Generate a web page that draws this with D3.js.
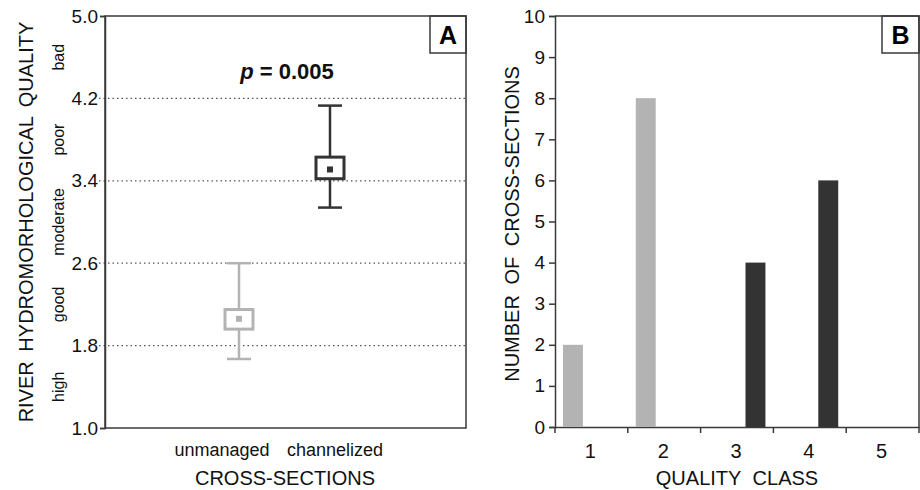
<!DOCTYPE html>
<html>
<head>
<meta charset="utf-8">
<script src="https://cdn.jsdelivr.net/npm/d3@7"></script>
<style>
  body { margin: 0; background: #fff; }
  svg { display: block; font-family: "Liberation Sans", Arial, sans-serif; }
  .frame { fill: none; stroke: #3a3a3a; stroke-width: 1.5; }
  .grid line { stroke: #555; stroke-width: 1.2; stroke-dasharray: 1.5 3; }
  .axis path, .axis line { stroke: #3a3a3a; stroke-width: 1.5; }
  .axis text { font-family: "Liberation Sans", Arial, sans-serif; font-size: 19px; fill: #111; }
</style>
</head>
<body>
<svg id="chart" width="920" height="490"></svg>
<script>
// ---- data (panel A: whisker/box summary) ----
const groups   = ['unmanaged', 'channelized'];
const whiskLo  = [1.67, 3.14];
const boxLo    = [1.96, 3.42];
const meanVals = [2.06, 3.51];
const boxHi    = [2.15, 3.63];
const whiskHi  = [2.60, 4.13];
const groupColors = ['#b3b3b3', '#333333'];

const yTicksA   = [1.0, 1.8, 2.6, 3.4, 4.2, 5.0];
const gridA     = [1.8, 2.6, 3.4, 4.2];
const classNames = ['high', 'good', 'moderate', 'poor', 'bad'];
const classMid   = [1.4, 2.2, 3.0, 3.8, 4.6];

// ---- data (panel B: counts per quality class) ----
const qualityClass = ['1', '2', '3', '4', '5'];
const countUnmanaged   = [2, 8, 0, 0, 0];
const countChannelized = [0, 0, 4, 6, 0];
const yTicksB = d3.range(0, 11);

const svg = d3.select('#chart');

// ================= Panel A =================
const A = { l: 105, r: 466, t: 16, b: 428 };
const yA = d3.scaleLinear().domain([1, 5]).range([A.b, A.t]);
const xA = d3.scalePoint().domain(groups).range([A.l + 134, A.l + 225]);

const gA = svg.append('g');

gA.append('g').attr('class', 'grid')
  .selectAll('line').data(gridA).join('line')
    .attr('x1', A.l - 6).attr('x2', A.r)
    .attr('y1', d => yA(d)).attr('y2', d => yA(d));

gA.append('g').attr('class', 'axis')
  .attr('transform', `translate(${A.l},0)`)
  .call(d3.axisLeft(yA).tickValues(yTicksA).tickFormat(d3.format('.1f')).tickSize(5).tickPadding(2))
  .call(g => g.selectAll('.tick line').filter(d => gridA.includes(d)).remove());

gA.append('rect').attr('class', 'frame')
  .attr('x', A.l).attr('y', A.t).attr('width', A.r - A.l).attr('height', A.b - A.t);

// whiskers + boxes
const stats = groups.map((g, i) => ({
  g, lo: whiskLo[i], q1: boxLo[i], m: meanVals[i], q3: boxHi[i], hi: whiskHi[i], c: groupColors[i]
}));
const bw = gA.selectAll('.bw').data(stats).join('g').attr('class', 'bw');
bw.append('line')
  .attr('x1', d => xA(d.g)).attr('x2', d => xA(d.g))
  .attr('y1', d => yA(d.hi)).attr('y2', d => yA(d.lo))
  .attr('stroke', d => d.c).attr('stroke-width', 2.5);
bw.append('line')
  .attr('x1', d => xA(d.g) - 12).attr('x2', d => xA(d.g) + 12)
  .attr('y1', d => yA(d.hi)).attr('y2', d => yA(d.hi))
  .attr('stroke', d => d.c).attr('stroke-width', 2.5);
bw.append('line')
  .attr('x1', d => xA(d.g) - 12).attr('x2', d => xA(d.g) + 12)
  .attr('y1', d => yA(d.lo)).attr('y2', d => yA(d.lo))
  .attr('stroke', d => d.c).attr('stroke-width', 2.5);
bw.append('rect')
  .attr('x', d => xA(d.g) - 14).attr('width', 28)
  .attr('y', d => yA(d.q3)).attr('height', d => yA(d.q1) - yA(d.q3))
  .attr('fill', '#fff').attr('stroke', d => d.c).attr('stroke-width', 3);
bw.append('rect')
  .attr('x', d => xA(d.g) - 3).attr('width', 6)
  .attr('y', d => yA(d.m) - 3).attr('height', 6)
  .attr('fill', d => d.c);

// p-value
const pText = gA.append('text')
  .attr('x', 287).attr('y', 79).attr('text-anchor', 'middle')
  .attr('font-size', 22).attr('font-weight', 'bold').attr('fill', '#111');
pText.append('tspan').attr('font-style', 'italic').text('p');
pText.append('tspan').text(' = 0.005');

// class labels (rotated)
gA.selectAll('.cls').data(classNames).join('text')
  .attr('class', 'cls')
  .attr('transform', (d, i) => `translate(64,${yA(classMid[i])}) rotate(-90)`)
  .attr('text-anchor', 'middle').attr('font-size', 16).attr('fill', '#111')
  .text(d => d);

gA.append('text')
  .attr('transform', `translate(33,${(A.t + A.b) / 2}) rotate(-90)`)
  .attr('text-anchor', 'middle').attr('font-size', 20).attr('fill', '#111')
  .attr('word-spacing', 4)
  .text('RIVER HYDROMORHOLOGICAL QUALITY');

// category labels
const labelDx = { unmanaged: -17, channelized: 5 };
gA.selectAll('.cat').data(groups).join('text')
  .attr('class', 'cat')
  .attr('x', d => xA(d) + labelDx[d]).attr('y', 456)
  .attr('text-anchor', 'middle').attr('font-size', 18).attr('fill', '#111')
  .text(d => d);

gA.append('text')
  .attr('x', 285).attr('y', 485).attr('text-anchor', 'middle')
  .attr('font-size', 20).attr('fill', '#111')
  .text('CROSS-SECTIONS');

// panel tag A
gA.append('rect').attr('class', 'frame')
  .attr('x', A.r - 36).attr('y', A.t).attr('width', 36).attr('height', 37);
gA.append('text').attr('x', A.r - 18).attr('y', A.t + 28)
  .attr('text-anchor', 'middle').attr('font-size', 25).attr('font-weight', 'bold')
  .text('A');

// ================= Panel B =================
const B = { l: 555, r: 919, t: 16, b: 427 };
const yB = d3.scaleLinear().domain([0, 10]).range([B.b, B.t]);
const xB = d3.scaleBand().domain(qualityClass).range([B.l, B.r]);
const xSub = d3.scaleBand().domain(groups).range([0, xB.bandwidth()])
  .paddingInner(0.46).paddingOuter(0.216);

const gB = svg.append('g');

gB.append('g').attr('class', 'axis')
  .attr('transform', `translate(${B.l},0)`)
  .call(d3.axisLeft(yB).tickValues(yTicksB).tickSize(6).tickPadding(4));

gB.append('g').attr('class', 'axis')
  .attr('transform', `translate(0,${B.b})`)
  .call(d3.axisBottom(xB).tickSize(0).tickPadding(17))
  .call(g => g.selectAll('.tick text').style('font-size', '20px').attr('dx', -1))
  .call(g => g.selectAll('.edge').data(qualityClass.map(c => xB(c)).concat([B.r]))
    .join('line').attr('class', 'edge')
    .attr('x1', d => d).attr('x2', d => d).attr('y1', 0).attr('y2', 6));

gB.append('path').attr('class', 'frame')
  .attr('d', `M${B.l},${B.t}H${B.r}V${B.b}`);

const barRows = qualityClass.flatMap((c, i) => [
  { c, g: 'unmanaged', v: countUnmanaged[i], col: groupColors[0] },
  { c, g: 'channelized', v: countChannelized[i], col: groupColors[1] }
]).filter(d => d.v > 0);

gB.selectAll('.bar').data(barRows).join('rect')
  .attr('class', 'bar')
  .attr('x', d => xB(d.c) + xSub(d.g)).attr('width', xSub.bandwidth())
  .attr('y', d => yB(d.v)).attr('height', d => yB(0) - yB(d.v))
  .attr('fill', d => d.col);

gB.append('text')
  .attr('transform', `translate(519,224) rotate(-90)`)
  .attr('text-anchor', 'middle').attr('font-size', 20).attr('fill', '#111')
  .attr('word-spacing', 5)
  .text('NUMBER OF CROSS-SECTIONS');

gB.append('text')
  .attr('x', 737).attr('y', 485).attr('text-anchor', 'middle')
  .attr('font-size', 20).attr('fill', '#111').attr('word-spacing', 6)
  .text('QUALITY CLASS');

gB.append('rect').attr('class', 'frame')
  .attr('x', B.r - 37).attr('y', B.t).attr('width', 37).attr('height', 37);
gB.append('text').attr('x', B.r - 18.5).attr('y', B.t + 28)
  .attr('text-anchor', 'middle').attr('font-size', 25).attr('font-weight', 'bold')
  .text('B');
</script>
</body>
</html>
